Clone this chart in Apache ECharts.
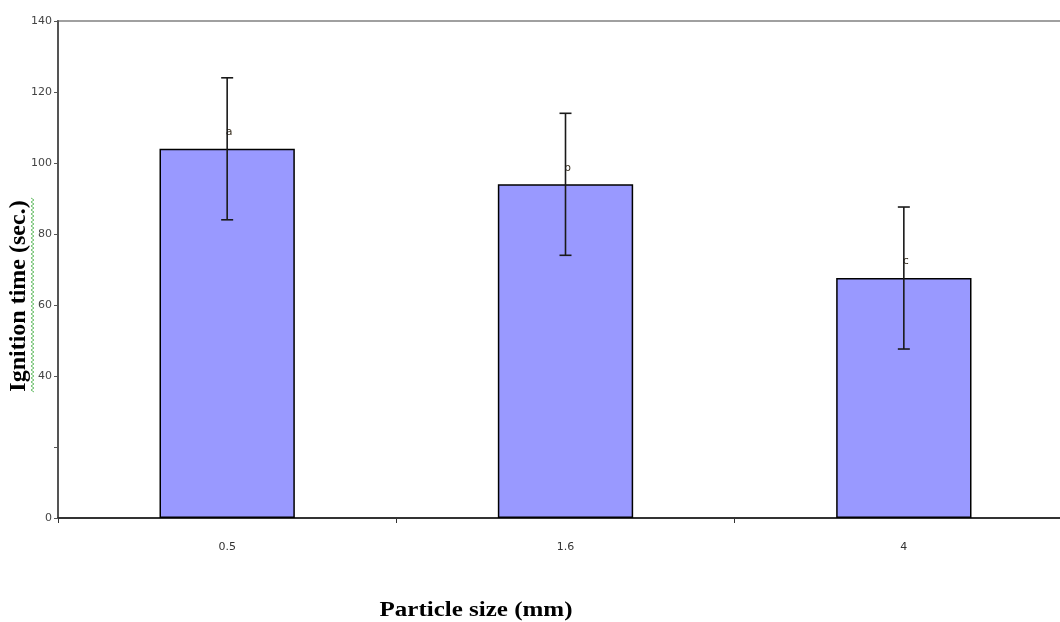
<!DOCTYPE html>
<html>
<head>
<meta charset="utf-8">
<script src="https://cdn.jsdelivr.net/npm/echarts@6/dist/echarts.min.js"></script>
<style>
html,body{margin:0;padding:0;background:#fff;}
#chart{width:1060px;height:622px;}
</style>
</head>
<body>
<div id="chart"></div>
<script>
var categories = ['0.5', '1.6', '4'];
var meanValues = [104, 94, 67.6];
var errorValues = [20, 20, 20];
var groupLetters = ['a', 'b', 'c'];
var yTicks = [0, 20, 40, 60, 80, 100, 120, 140];
var hiddenTickLabels = [20];

var chart = echarts.init(document.getElementById('chart'));

// green squiggle decoration beside y-axis title (spell-check mark)
var squiggle = [];
for (var y = 198, i = 0; y <= 393; y += 2, i++) {
  squiggle.push([i % 2 === 0 ? 31 : 34, y]);
}

var tickFont = 'DejaVu Sans, Liberation Sans, Arial, sans-serif';

var option = {
  animation: false,
  backgroundColor: '#fff',
  grid: {
    left: 58, top: 21, width: 1015, bottom: 104,
    outerBoundsMode: 'none',
    containLabel: false,
    show: true, borderColor: '#a0a0a0', borderWidth: 2, backgroundColor: 'transparent'
  },
  xAxis: {
    type: 'category',
    data: categories,
    boundaryGap: true,
    axisLine: { lineStyle: { color: '#333', width: 2 } },
    axisTick: { show: true, alignWithLabel: false, length: 5, lineStyle: { color: '#333', width: 1 } },
    axisLabel: { margin: 24, fontSize: 11, color: '#333', fontFamily: tickFont },
    splitLine: { show: false }
  },
  yAxis: {
    type: 'value',
    min: 0, max: 140, interval: 20,
    axisLine: { show: true, lineStyle: { color: '#555', width: 2 } },
    axisTick: { show: true, length: 4, lineStyle: { color: '#555' } },
    axisLabel: {
      margin: 6, fontSize: 11, color: '#444', fontFamily: tickFont,
      formatter: function (v) { return hiddenTickLabels.indexOf(v) >= 0 ? '' : String(v); }
    },
    splitLine: { show: false }
  },
  series: [
    {
      type: 'bar',
      data: meanValues,
      barWidth: '40%',
      itemStyle: { color: '#9999ff', borderColor: '#000', borderWidth: 1.5 },
      label: {
        show: true, position: 'top', distance: 11, offset: [2, 0],
        fontSize: 11, color: '#3a3020', fontFamily: tickFont,
        formatter: function (p) { return groupLetters[p.dataIndex]; }
      },
      z: 2
    },
    {
      type: 'custom',
      z: 3,
      data: meanValues.map(function (v, i) { return [i, v - errorValues[i], v + errorValues[i]]; }),
      renderItem: function (params, api) {
        var lo = api.coord([api.value(0), api.value(1)]);
        var hi = api.coord([api.value(0), api.value(2)]);
        var cap = 6;
        var st = { stroke: '#1a1a1a', lineWidth: 1.6 };
        return {
          type: 'group',
          children: [
            { type: 'line', shape: { x1: hi[0], y1: hi[1], x2: lo[0], y2: lo[1] }, style: st },
            { type: 'line', shape: { x1: hi[0] - cap, y1: hi[1], x2: hi[0] + cap, y2: hi[1] }, style: st },
            { type: 'line', shape: { x1: lo[0] - cap, y1: lo[1], x2: lo[0] + cap, y2: lo[1] }, style: st }
          ]
        };
      }
    }
  ],
  graphic: [
    {
      type: 'text', x: 19, y: 296, rotation: Math.PI / 2,
      style: {
        text: 'Ignition time (sec.)', fill: '#000',
        font: 'bold 24px "Liberation Serif", "Times New Roman", serif',
        textAlign: 'center', textVerticalAlign: 'middle'
      }
    },
    {
      type: 'polyline', shape: { points: squiggle },
      style: { stroke: '#6bbf6b', lineWidth: 1, fill: null }
    },
    {
      type: 'text', x: 476, y: 611, scaleX: 1.25,
      style: {
        text: 'Particle size (mm)', fill: '#000',
        font: 'bold 20px "Liberation Serif", "Times New Roman", serif',
        textAlign: 'center', textVerticalAlign: 'middle'
      }
    }
  ]
};
chart.setOption(option);
</script>
</body>
</html>
